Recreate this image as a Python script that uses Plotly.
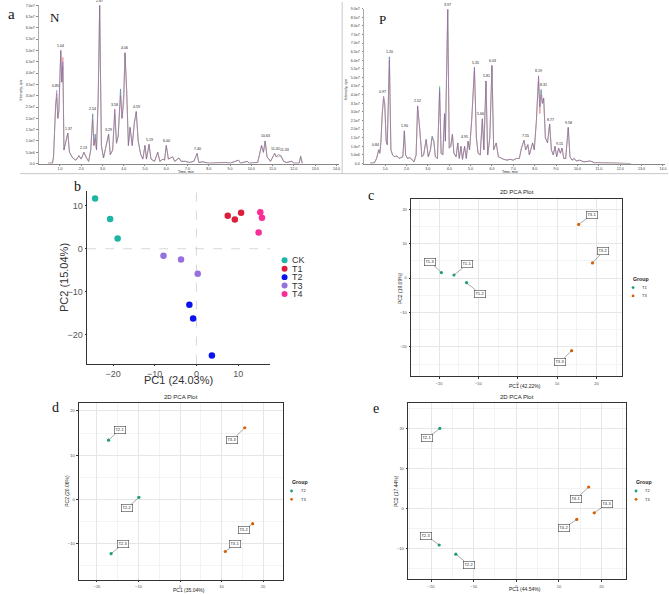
import plotly.graph_objects as go

W, H = 669, 594

# ======================= DATA =======================
# --- Chromatogram N (retention time, min; intensity in units of 1e7 cps)
N_TIME = [0.45, 0.65, 0.70, 0.75, 0.80, 0.85, 0.90, 0.95, 1.00, 1.04, 1.09, 1.14, 1.19, 1.25, 1.31,
          1.37, 1.45, 1.60, 1.75, 1.90, 2.00, 2.13, 2.25, 2.35, 2.45, 2.54, 2.60, 2.66, 2.72, 2.80,
          2.87, 2.95, 3.05, 3.15, 3.22, 3.29, 3.37, 3.48, 3.58, 3.66, 3.74, 3.85, 3.92, 4.00, 4.06,
          4.14, 4.22, 4.30, 4.40, 4.50, 4.59, 4.68, 4.80, 4.90, 5.00, 5.07, 5.19, 5.28, 5.45, 5.60,
          5.70, 5.85, 5.92, 6.00, 6.10, 6.30, 6.40, 6.60, 6.70, 6.90, 7.10, 7.30, 7.45, 7.53, 7.70,
          8.00, 8.80, 9.00, 9.40, 9.50, 9.80, 9.90, 10.30, 10.48, 10.57, 10.65, 10.74, 10.90, 11.10,
          11.17, 11.27, 11.40, 11.52, 11.65, 11.90, 12.00, 12.25, 12.32, 12.40]
N_INT = [0.02, 0.02, 0.3, 2.0, 2.6, 3.25, 2.0, 2.3, 4.4, 5.0, 3.6, 4.5, 0.6, 0.9, 1.2,
         1.35, 0.5, 0.25, 0.15, 0.35, 0.2, 0.5, 0.25, 0.1, 0.6, 2.2, 0.8, 1.3, 0.6, 3.0,
         7.0, 0.8, 0.25, 0.8, 1.0, 1.3, 0.4, 0.6, 2.4, 0.9, 1.2, 3.3, 2.0, 3.0, 4.9,
         3.2, 0.8, 1.6, 0.8, 1.8, 2.3, 1.0, 0.4, 0.2, 0.8, 0.2, 0.85, 0.2, 0.1, 0.5,
         0.1, 0.2, 0.15, 0.8, 0.2, 0.3, 0.1, 0.25, 0.1, 0.1, 0.05, 0.1, 0.45, 0.05, 0.08,
         0.02, 0.05, 0.02, 0.15, 0.02, 0.1, 0.02, 0.05, 0.8, 0.5, 1.0, 0.3, 0.1, 0.45,
         0.3, 0.4, 0.35, 0.1, 0.05, 0.1, 0.02, 0.02, 0.3, 0.0]
N_RED_DIFF = {0.85: 3.1, 1.14: 4.7, 2.54: 1.9, 2.66: 1.1, 3.85: 3.0, 4.00: 2.6, 11.40: 0.3}
N_GREEN_DIFF = {0.85: 2.9, 1.14: 4.3, 2.80: 2.7, 3.58: 2.2, 11.27: 0.3, 12.32: 0.35}
N_PEAK_RT = ["0.85", "1.04", "1.37", "2.13", "2.54", "2.87", "3.29", "3.58", "4.06", "4.59",
             "5.19", "6.00", "7.40", "10.63", "11.05", "11.33"]
N_PEAK_X = [0.80, 1.04, 1.40, 2.13, 2.54, 2.87, 3.29, 3.58, 4.06, 4.62, 5.22, 6.03, 7.45,
            10.65, 11.12, 11.55]
N_PEAK_H = [3.25, 5.0, 1.35, 0.5, 2.2, 7.0, 1.3, 2.4, 4.9, 2.3, 0.85, 0.8, 0.45, 1.0, 0.45, 0.4]
N_YTICK_VALS = [0, 0.5, 1.0, 1.5, 2.0, 2.5, 3.0, 3.5, 4.0, 4.5, 5.0, 5.5, 6.0, 6.5, 7.0]
N_YTICK_TEXT = ["0.0", "5.0e6", "1.0e7", "1.5e7", "2.0e7", "2.5e7", "3.0e7", "3.5e7", "4.0e7",
                "4.5e7", "5.0e7", "5.5e7", "6.0e7", "6.5e7", "7.0e7"]

# --- Chromatogram P
P_TIME = [0.30, 0.50, 0.60, 0.70, 0.75, 0.80, 0.87, 0.93, 0.98, 1.05, 1.10, 1.20, 1.27, 1.35, 1.45,
          1.55, 1.65, 1.75, 1.83, 1.90, 1.96, 2.05, 2.15, 2.25, 2.35, 2.45, 2.52, 2.62, 2.72, 2.80,
          2.92, 3.02, 3.12, 3.20, 3.28, 3.35, 3.45, 3.55, 3.62, 3.70, 3.78, 3.82, 3.93, 4.00, 4.07,
          4.15, 4.22, 4.32, 4.40, 4.47, 4.55, 4.62, 4.72, 4.80, 4.88, 4.95, 5.05, 5.18, 5.27, 5.35,
          5.45, 5.55, 5.62, 5.72, 5.80, 5.90, 6.00, 6.08, 6.20, 6.30, 6.45, 6.55, 6.70, 6.85, 7.00,
          7.15, 7.28, 7.38, 7.50, 7.58, 7.68, 7.75, 7.90, 7.98, 8.08, 8.18, 8.24, 8.30, 8.36, 8.42,
          8.50, 8.60, 8.70, 8.78, 8.87, 8.95, 9.03, 9.12, 9.20, 9.28, 9.36, 9.45, 9.57, 9.65, 9.75,
          9.85, 9.95, 10.10, 10.30, 10.60, 10.80, 11.30, 11.80, 12.50]
P_INT = [0.02, 0.05, 0.3, 0.8, 0.6, 1.2, 3.0, 3.9, 3.5, 1.3, 1.1, 6.2, 0.8, 0.5, 0.4,
         0.45, 0.3, 0.35, 0.4, 1.9, 0.5, 0.3, 0.35, 0.25, 0.1, 0.5, 3.35, 2.0, 0.4, 0.5,
         1.4, 0.4, 0.8, 1.6, 1.3, 0.4, 0.3, 4.4, 0.6, 0.5, 2.9, 1.3, 8.95, 0.9, 1.0,
         1.7, 0.6, 0.4, 1.2, 0.3, 1.0, 0.25, 1.0, 0.3, 1.3, 0.8, 2.5, 5.6, 1.5, 0.6,
         0.5, 2.6, 0.8, 4.8, 0.5, 1.5, 5.7, 0.8, 1.2, 0.4, 0.3, 0.25, 0.2, 0.25, 0.2,
         0.3, 0.3, 0.9, 1.35, 0.8, 1.1, 0.5, 1.2, 0.8, 2.5, 5.1, 3.3, 4.3, 3.5, 3.8,
         1.5, 1.2, 2.3, 0.8, 0.5, 1.0, 0.4, 0.9, 0.6, 0.9, 0.3, 0.3, 2.1, 0.4, 0.2,
         0.3, 0.15, 0.2, 0.1, 0.15, 0.05, 0.05, 0.03, 0.0]
P_RED_DIFF = {1.20: 6.0, 3.55: 4.2, 8.24: 2.9, 8.30: 4.0, 3.20: 1.5}
P_GREEN_DIFF = {0.93: 3.7, 3.55: 4.5, 5.18: 5.4, 8.18: 4.8}
P_PEAK_RT = ["0.84", "0.97", "1.20", "1.90", "2.52", "3.97", "4.95", "5.35", "5.66", "5.81",
             "6.03", "7.55", "8.19", "8.31", "8.77", "9.15", "9.58"]
P_PEAK_X = [0.55, 0.90, 1.20, 1.90, 2.52, 3.93, 4.72, 5.22, 5.48, 5.75, 6.03, 7.55, 8.18,
            8.43, 8.74, 9.16, 9.57]
P_PEAK_H = [0.8, 3.9, 6.2, 1.9, 3.35, 8.95, 1.3, 5.6, 2.6, 4.8, 5.7, 1.35, 5.1, 4.3, 2.3, 0.9, 2.1]
P_YTICK_VALS = [0, 0.5, 1.0, 1.5, 2.0, 2.5, 3.0, 3.5, 4.0, 4.5, 5.0, 5.5, 6.0, 6.5, 7.0,
                7.5, 8.0, 8.5, 9.0]
P_YTICK_TEXT = ["0.0", "5.0e6", "1.0e7", "1.5e7", "2.0e7", "2.5e7", "3.0e7", "3.5e7", "4.0e7",
                "4.5e7", "5.0e7", "5.5e7", "6.0e7", "6.5e7", "7.0e7", "7.5e7", "8.0e7", "8.5e7",
                "9.0e7"]
TIME_TICK_VALS = [1, 2, 3, 4, 5, 6, 7, 8, 9, 10, 11, 12, 13, 14]
TIME_TICK_TEXT = ["1.0", "2.0", "3.0", "4.0", "5.0", "6.0", "7.0", "8.0", "9.0", "10.0",
                  "11.0", "12.0", "13.0", "14.0"]

# --- Panel b: PCA of all groups
B_GROUPS = ["CK", "T1", "T2", "T3", "T4"]
B_CK_PC1 = [-24.3, -20.7, -18.9]
B_CK_PC2 = [11.7, 6.9, 2.4]
B_T1_PC1 = [7.5, 9.2, 10.7]
B_T1_PC2 = [7.7, 6.8, 8.4]
B_T2_PC1 = [-1.7, -0.8, 3.7]
B_T2_PC2 = [-13.0, -16.2, -24.8]
B_T3_PC1 = [-7.9, -3.7, 0.3]
B_T3_PC2 = [-1.6, -2.5, -5.8]
B_T4_PC1 = [15.3, 15.7, 14.9]
B_T4_PC2 = [8.5, 7.2, 3.8]
B_TICKS = [-20, -10, 0, 10]

# --- Panel c: T1 vs T3
C_SAMPLES = ["T1-1", "T1-2", "T1-3", "T3-1", "T3-2", "T3-3"]
C_GROUP = ["T1", "T1", "T1", "T3", "T3", "T3"]
C_PC1 = [-16.2, -13.0, -19.4, 15.5, 19.0, 13.7]
C_PC2 = [0.9, -1.35, 1.6, 15.6, 4.4, -21.1]

# --- Panel d: T2 vs T3
D_SAMPLES = ["T2-1", "T2-2", "T2-3", "T3-1", "T3-2", "T3-3"]
D_GROUP = ["T2", "T2", "T2", "T3", "T3", "T3"]
D_PC1 = [-17.2, -9.9, -16.6, 10.9, 17.5, 15.6]
D_PC2 = [13.4, 0.45, -12.3, -11.8, -5.5, 16.2]

# --- Panel e: T2 vs T4
E_SAMPLES = ["T2-1", "T2-2", "T2-3", "T4-1", "T4-2", "T4-3"]
E_GROUP = ["T2", "T2", "T2", "T4", "T4", "T4"]
E_PC1 = [-17.95, -14.2, -18.1, 17.0, 14.2, 18.3]
E_PC2 = [19.95, -11.5, -9.2, 5.3, -2.8, -1.15]

PCA_TICKS = [-20, -10, 0, 10, 20]

# ======================= STYLE / LAYOUT =======================
B_COLORS = {"CK": "#1DB5A4", "T1": "#DC1E3C", "T2": "#0A14F0", "T3": "#9670DC", "T4": "#FA2D96"}
PAIR_COLORS = ["#1B9E77", "#D95F02"]
# repelled label positions (data coords) for each sample label in c, d, e
C_LABEL_POS = [(-12.8, 3.95), (-9.5, -4.6), (-22.4, 4.8), (18.8, 18.4), (21.8, 7.8), (10.8, -24.4)]
D_LABEL_POS = [(-14.5, 15.7), (-12.8, -2.0), (-13.75, -10.1), (13.2, -10.2), (15.4, -6.9), (12.6, 13.5)]
E_LABEL_POS = [(-20.9, 17.5), (-11.2, -14.1), (-21.1, -6.85), (14.0, 2.3), (11.2, -5.0), (21.4, 1.15)]

SANS = "Liberation Sans, Arial, sans-serif"
SERIF = "Liberation Serif, Times New Roman, serif"


def dom(l, r, t, b):
    return [l / W, r / W], [1 - b / H, 1 - t / H]


def px(x):
    return x / W


def py(y):
    return 1 - y / H


fig = go.Figure()
annotations = []
shapes = []


def pa(x, y, text, size, color="#222", family=SANS, xanchor="center", angle=0):
    annotations.append(dict(x=px(x), y=py(y), xref="paper", yref="paper", text=text,
                            showarrow=False, xanchor=xanchor, yanchor="middle", textangle=angle,
                            font=dict(size=size, color=color, family=family)))


# ---------------- Chromatograms ----------------
def chrom(idx, times, ints, red_diff, green_diff, peak_txt, peak_x, peak_h):
    xa, ya = "x%d" % idx, "y%d" % idx
    red = [red_diff.get(t, v) for t, v in zip(times, ints)]
    green = [green_diff.get(t, v) for t, v in zip(times, ints)]
    fig.add_trace(go.Scatter(x=times, y=green, mode="lines", xaxis=xa, yaxis=ya,
                             line=dict(color="rgba(70,180,80,0.75)", width=0.6), hoverinfo="skip"))
    fig.add_trace(go.Scatter(x=times, y=red, mode="lines", xaxis=xa, yaxis=ya,
                             line=dict(color="rgba(235,70,70,0.75)", width=0.6), hoverinfo="skip"))
    fig.add_trace(go.Scatter(x=times, y=ints, mode="lines", xaxis=xa, yaxis=ya,
                             line=dict(color="rgba(105,105,220,0.7)", width=0.6), hoverinfo="skip"))
    for t, x, h in zip(peak_txt, peak_x, peak_h):
        annotations.append(dict(x=x, y=h, xref=xa, yref=ya, text=t, showarrow=False,
                                yanchor="bottom", xanchor="center", yshift=0.5,
                                font=dict(size=3.6, color="#222", family=SANS)))


chrom(1, N_TIME, N_INT, N_RED_DIFF, N_GREEN_DIFF, N_PEAK_RT, N_PEAK_X, N_PEAK_H)
chrom(2, P_TIME, P_INT, P_RED_DIFF, P_GREEN_DIFF, P_PEAK_RT, P_PEAK_X, P_PEAK_H)

chrom_x = dict(range=[0, 14.1], tickvals=TIME_TICK_VALS, ticktext=TIME_TICK_TEXT,
               tickfont=dict(size=3.6, color="#333", family=SANS), showline=True,
               linecolor="#888", linewidth=0.6, ticks="outside", ticklen=1.5, tickwidth=0.5,
               tickcolor="#888", showgrid=False, zeroline=False, fixedrange=True)
chrom_y = dict(tickfont=dict(size=3.6, color="#333", family=SANS), showline=True,
               linecolor="#aaa", linewidth=0.5, ticks="outside", ticklen=1.5, tickwidth=0.5,
               tickcolor="#888", showgrid=False, zeroline=False, ticklabelstandoff=1)

xd, yd = dom(38.7, 38.7 + 14.1 * 21.3, 3.3, 162.7)
x1 = dict(chrom_x, domain=xd, anchor="y1")
y1 = dict(chrom_y, domain=yd, anchor="x1", range=[0, 7.0], tickvals=N_YTICK_VALS, ticktext=N_YTICK_TEXT)
xd, yd = dom(364.3, 364.3 + 14.1 * 21.4, 6.7, 162.7)
x2 = dict(chrom_x, domain=xd, anchor="y2")
y2 = dict(chrom_y, domain=yd, anchor="x2", range=[0, 9.0], tickvals=P_YTICK_VALS, ticktext=P_YTICK_TEXT)

for cx in (186.7, 511):
    pa(cx, 171, "Time, min", 3.6)
for cx, cy in ((21, 88), (347, 88)):
    pa(cx, cy, "Intensity, cps", 3.6, angle=-90)

# image borders
shapes.append(dict(type="line", xref="paper", yref="paper", x0=px(20), x1=1, y0=py(172.8), y1=py(172.8),
                   line=dict(color="#bbbbbb", width=0.8)))
shapes.append(dict(type="line", xref="paper", yref="paper", x0=px(342.7), x1=px(342.7), y0=py(0), y1=py(172.8),
                   line=dict(color="#bbbbbb", width=0.8)))

# ---------------- Panel b ----------------
b_sets = [("CK", B_CK_PC1, B_CK_PC2), ("T1", B_T1_PC1, B_T1_PC2), ("T2", B_T2_PC1, B_T2_PC2),
          ("T3", B_T3_PC1, B_T3_PC2), ("T4", B_T4_PC1, B_T4_PC2)]
for g, xs, ys in b_sets:
    fig.add_trace(go.Scatter(x=xs, y=ys, mode="markers", xaxis="x3", yaxis="y3", name=g,
                             marker=dict(color=B_COLORS[g], size=6.5, line=dict(width=0))))

xd, yd = dom(87.3, 270.7, 190, 364)
b_axis = dict(showline=True, linecolor="#333", linewidth=1, ticks="outside", ticklen=1.5,
              tickwidth=0.8, tickcolor="#333", showgrid=False, zeroline=False,
              tickfont=dict(size=9, color="#555", family=SANS), tickvals=B_TICKS,
              ticklabelstandoff=0)
x3 = dict(b_axis, domain=xd, anchor="y3", range=[-26.2, 17.7])
y3 = dict(b_axis, domain=yd, anchor="x3", range=[-26.7, 13.5])
shapes.append(dict(type="line", xref="x3", yref="y3 domain", x0=0, x1=0, y0=0, y1=1,
                   line=dict(color="#cfcfcf", width=0.8, dash="dash"), layer="below"))
shapes.append(dict(type="line", xref="x3 domain", yref="y3", x0=0, x1=1, y0=0, y1=0,
                   line=dict(color="#cfcfcf", width=0.8, dash="dash"), layer="below"))
pa(179, 381, "PC1 (24.03%)", 11, color="#333")
pa(64, 277, "PC2 (15.04%)", 11, color="#333", angle=-90)
for i, g in enumerate(B_GROUPS):
    cy = 260 + i * 8.5
    r = 3.0
    shapes.append(dict(type="circle", xref="paper", yref="paper", x0=px(285 - r), x1=px(285 + r),
                       y0=py(cy + r), y1=py(cy - r), fillcolor=B_COLORS[g], line=dict(width=0)))
    pa(290, cy, g, 9, color="#333", xanchor="left")


# ---------------- Panels c, d, e ----------------
def pca_panel(idx, box, xr, yr, samples, groups, pc1, pc2, label_pos, xtitle, ytitle,
              title_xy, xtitle_y, ytitle_x, legend_xy):
    xa, ya = "x%d" % idx, "y%d" % idx
    uniq = []
    for g in groups:
        if g not in uniq:
            uniq.append(g)
    for k, g in enumerate(uniq):
        xs = [a for a, gg in zip(pc1, groups) if gg == g]
        ys = [b for b, gg in zip(pc2, groups) if gg == g]
        fig.add_trace(go.Scatter(x=xs, y=ys, mode="markers", xaxis=xa, yaxis=ya, name=g,
                                 marker=dict(color=PAIR_COLORS[k], size=3.2, line=dict(width=0))))
    for s, a, b, (lx, ly) in zip(samples, pc1, pc2, label_pos):
        annotations.append(dict(x=a, y=b, xref=xa, yref=ya, ax=lx, ay=ly, axref=xa, ayref=ya,
                                text=s, showarrow=True, arrowhead=0, arrowwidth=0.5,
                                arrowcolor="#555", standoff=1.2, bgcolor="white",
                                bordercolor="#444", borderwidth=0.6, borderpad=0.8,
                                font=dict(size=4, color="#222", family=SANS)))
    l, r, t, b = box
    xd, yd = dom(l, r, t, b)
    ax = dict(showline=True, mirror=True, linecolor="#333", linewidth=0.9, ticks="outside",
              ticklen=1.5, tickwidth=0.5, tickcolor="#333", showgrid=True, gridcolor="#E6E6E6",
              gridwidth=0.6, zeroline=False, tickvals=PCA_TICKS, ticklabelstandoff=1,
              tickfont=dict(size=4, color="#4D4D4D", family=SANS),
              minor=dict(tickvals=[-25, -15, -5, 5, 15, 25], showgrid=True, gridcolor="#F3F3F3",
                         gridwidth=0.5, ticks=""))
    layout_axes["xaxis%d" % idx] = dict(ax, domain=xd, anchor=ya, range=xr)
    layout_axes["yaxis%d" % idx] = dict(ax, domain=yd, anchor=xa, range=yr)
    pa(title_xy[0], title_xy[1], "2D PCA Plot", 6)
    pa((l + r) / 2 + 8, xtitle_y, xtitle, 5)
    pa(ytitle_x, (t + b) / 2, ytitle, 5, angle=-90)
    lx0, ly0 = legend_xy
    pa(lx0, ly0, "<b>Group</b>", 5.2, xanchor="left")
    for k, g in enumerate(uniq):
        cy = ly0 + 9 + k * 8.4
        rr = 1.4
        cx = lx0 + 2
        shapes.append(dict(type="circle", xref="paper", yref="paper", x0=px(cx - rr), x1=px(cx + rr),
                           y0=py(cy + rr), y1=py(cy - rr), fillcolor=PAIR_COLORS[k], line=dict(width=0)))
        pa(cx + 7, cy, g, 4, xanchor="left")


layout_axes = {}
pca_panel(4, (411.7, 623.3, 198.3, 377), [-27.1, 26.6], [-28.6, 23.0], C_SAMPLES, C_GROUP, C_PC1,
          C_PC2, C_LABEL_POS, "PC1 (42.22%)", "PC2 (19.09%)", (517.5, 191.5), 387, 400,
          (632, 278.5))
pca_panel(5, (79, 283, 403.3, 581.7), [-24.35, 24.7], [-18.2, 21.9], D_SAMPLES, D_GROUP, D_PC1,
          D_PC2, D_LABEL_POS, "PC1 (35.04%)", "PC2 (20.06%)", (181, 397.5), 591.5, 67.7,
          (290, 483.3))
pca_panel(6, (408.7, 626.7, 403.3, 581.3), [-25.4, 25.7], [-17.8, 26.4], E_SAMPLES, E_GROUP, E_PC1,
          E_PC2, E_LABEL_POS, "PC1 (44.54%)", "PC2 (17.44%)", (517.7, 397.5), 591, 396.7,
          (635, 483.3))

# ---------------- Panel letters ----------------
for txt, x, y, s in (("a", 12, 12, 15), ("N", 55, 16, 13), ("P", 383, 18, 13), ("b", 78, 186, 14),
                     ("c", 372, 195, 14), ("d", 56, 408, 14), ("e", 377, 409, 14)):
    pa(x, y, txt, s, color="#111", family=SERIF)

fig.update_layout(
    width=W, height=H, autosize=False, margin=dict(l=0, r=0, t=0, b=0),
    paper_bgcolor="white", plot_bgcolor="white", showlegend=False,
    xaxis=x1, yaxis=y1, xaxis2=x2, yaxis2=y2, xaxis3=x3, yaxis3=y3,
    annotations=annotations, shapes=shapes, font=dict(family=SANS),
)
fig.update_layout(**layout_axes)

fig.write_html("out.html", config={"displayModeBar": False},
               post_script="document.body.style.margin='0';document.body.style.padding='0';"
                           "document.body.style.overflow='hidden';")
